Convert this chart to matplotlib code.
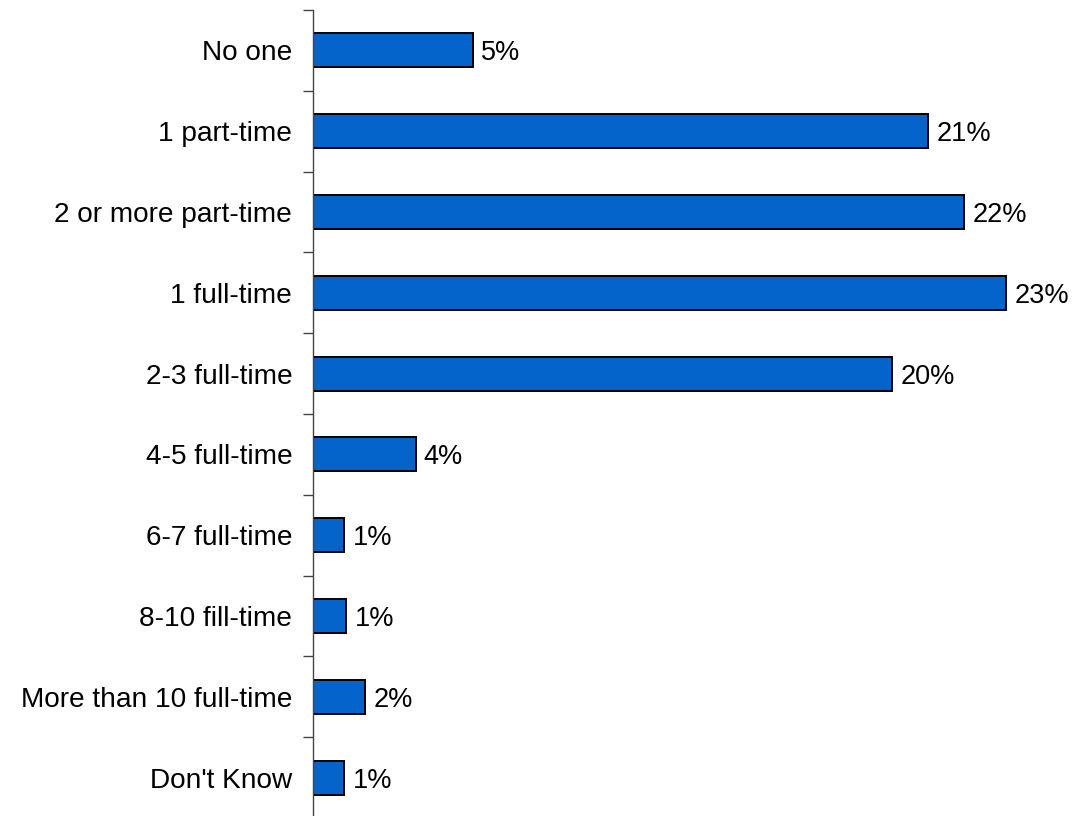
import matplotlib
matplotlib.use("Agg")
import matplotlib.pyplot as plt
import numpy as np

categories = [
    "No one", "1 part-time", "2 or more part-time", "1 full-time",
    "2-3 full-time", "4-5 full-time", "6-7 full-time", "8-10 fill-time",
    "More than 10 full-time", "Don't Know",
]
values = [5.3, 20.4, 21.6, 23.0, 19.2, 3.4, 1.03, 1.1, 1.73, 1.03]
labels = ["5%", "21%", "22%", "23%", "20%", "4%", "1%", "1%", "2%", "1%"]

plt.rcParams["font.family"] = ["Liberation Sans", "DejaVu Sans"]

fig = plt.figure(figsize=(10.86, 8.16), dpi=100)
ax = fig.add_axes([313 / 1086, -2 / 816, 760 / 1086, 808 / 816])

y = np.arange(len(categories))
ax.barh(y, values, height=0.42, color="#0563CC", edgecolor="black", linewidth=1.4)
for yi, v, lab in zip(y, values, labels):
    ax.annotate(lab, (v, yi), xytext=(6, 0), textcoords="offset points",
                va="center_baseline", ha="left", fontsize=19.5)

ax.set_ylim(len(categories) - 0.5, -0.5)
ax.set_xlim(0, 760 / 30.15)

ax.set_yticks(y)
ax.set_yticklabels(categories, fontsize=20.2)
ax.set_yticks(np.arange(-0.5, len(categories)), minor=True)
ax.tick_params(axis="y", which="major", length=0, pad=15)
ax.tick_params(axis="y", which="minor", length=7, width=1, color="#444444")
ax.set_xticks([])
for side in ["top", "right", "bottom"]:
    ax.spines[side].set_visible(False)
ax.spines["left"].set_color("#444444")
ax.spines["left"].set_linewidth(1)

fig.savefig("out.png", dpi=100)
